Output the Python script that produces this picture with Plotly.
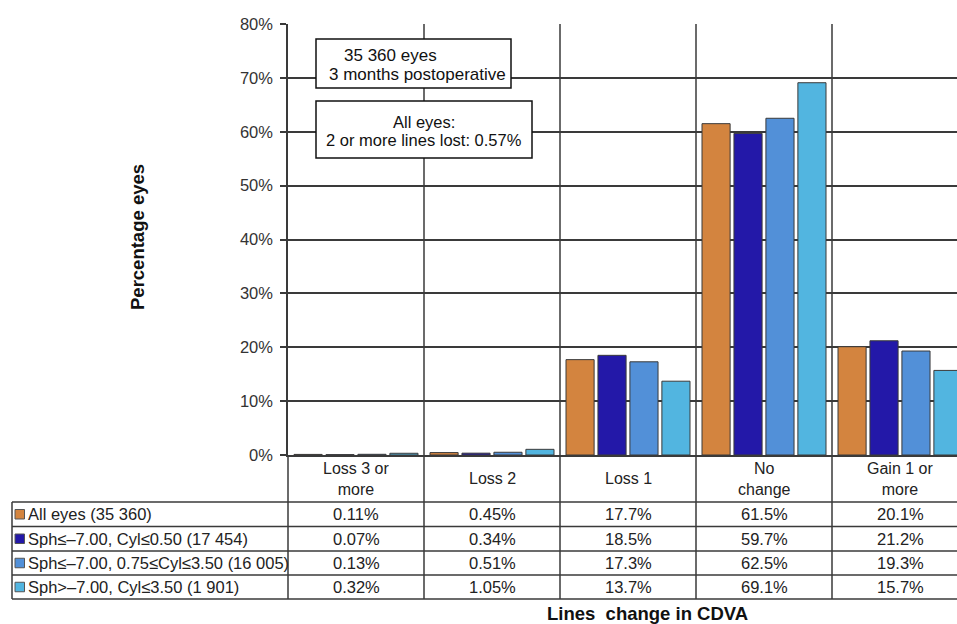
import plotly.graph_objects as go

categories = ["Loss 3 or<br>more", "Loss 2", "Loss 1", "No<br>change", "Gain 1 or<br>more"]
series_names = [
    "All eyes (35 360)",
    "Sph≤–7.00, Cyl≤0.50 (17 454)",
    "Sph≤–7.00, 0.75≤Cyl≤3.50 (16 005)",
    "Sph>–7.00, Cyl≤3.50 (1 901)",
]
all_eyes = [0.11, 0.45, 17.7, 61.5, 20.1]
sph_cyl_low = [0.07, 0.34, 18.5, 59.7, 21.2]
sph_cyl_mid = [0.13, 0.51, 17.3, 62.5, 19.3]
sph_high = [0.32, 1.05, 13.7, 69.1, 15.7]
value_labels = [
    ["0.11%", "0.45%", "17.7%", "61.5%", "20.1%"],
    ["0.07%", "0.34%", "18.5%", "59.7%", "21.2%"],
    ["0.13%", "0.51%", "17.3%", "62.5%", "19.3%"],
    ["0.32%", "1.05%", "13.7%", "69.1%", "15.7%"],
]
colors = ["#D3843F", "#2318A8", "#5290D8", "#52B5E0"]
y_ticks = [0, 10, 20, 30, 40, 50, 60, 70, 80]
y_tick_text = [f"{v}%" for v in y_ticks]

W, H = 957, 624
L, R, T, B = 288, 0, 24, 169
PW = W - L - R
PH = H - T - B
FONT = "Liberation Sans, Arial, sans-serif"
LINE = "#3a3a3a"
TXT = 16.5


def px_x(px):
    return (px - L) / PW


def px_y(py):
    return (H - B - py) / PH


series = [all_eyes, sph_cyl_low, sph_cyl_mid, sph_high]
x_idx = list(range(len(categories)))

fig = go.Figure()
for name, vals, col in zip(series_names, series, colors):
    fig.add_trace(go.Bar(
        x=x_idx, y=vals, name=name,
        marker=dict(color=col, line=dict(color="#3a3a3a", width=1)),
        showlegend=False,
    ))

cat_w = PW / 136.0  # plot width in category units

shapes = []
annotations = []

# vertical category separators running through plot and table
for i in range(len(categories) - 1):
    shapes.append(dict(type="line", xref="x", yref="paper",
                       x0=i + 0.5, x1=i + 0.5, y0=1, y1=px_y(599),
                       line=dict(color=LINE, width=1.5), layer="below"))
# y-axis extension into table
shapes.append(dict(type="line", xref="paper", yref="paper",
                   x0=0, x1=0, y0=0, y1=px_y(599),
                   line=dict(color=LINE, width=1.5)))
# left border of table label column
shapes.append(dict(type="line", xref="paper", yref="paper",
                   x0=px_x(12), x1=px_x(12), y0=px_y(502), y1=px_y(599),
                   line=dict(color=LINE, width=1.5)))
# horizontal table lines
row_lines = [502, 526.5, 551, 575, 599]
for yy in row_lines:
    shapes.append(dict(type="line", xref="paper", yref="paper",
                       x0=px_x(12), x1=1, y0=px_y(yy), y1=px_y(yy),
                       line=dict(color=LINE, width=1.5)))

# header labels (categories)
for i, c in enumerate(categories):
    annotations.append(dict(x=i, y=px_y(479), xref="x", yref="paper",
                            text=c, showarrow=False,
                            font=dict(family=FONT, size=16, color="#222"),
                            xanchor="center", yanchor="middle"))

# data rows
for r in range(len(series_names)):
    yc = (row_lines[r] + row_lines[r + 1]) / 2
    for i in range(len(categories)):
        annotations.append(dict(x=i, y=px_y(yc), xref="x", yref="paper",
                                text=value_labels[r][i], showarrow=False,
                                font=dict(family=FONT, size=TXT, color="#222"),
                                xanchor="center", yanchor="middle"))
    # legend key
    shapes.append(dict(type="rect", xref="paper", yref="paper",
                       x0=px_x(15), x1=px_x(24.5), y0=px_y(yc - 4.75), y1=px_y(yc + 4.75),
                       fillcolor=colors[r], line=dict(color="#555", width=1)))
    annotations.append(dict(x=px_x(25.5), y=px_y(yc), xref="paper", yref="paper",
                            text=series_names[r], showarrow=False,
                            font=dict(family=FONT, size=TXT, color="#222"),
                            xanchor="left", yanchor="middle"))

# text boxes
shapes.append(dict(type="rect", xref="paper", yref="paper",
                   x0=px_x(316), x1=px_x(511), y0=px_y(39), y1=px_y(88),
                   fillcolor="white", line=dict(color="#111", width=1.5), layer="above"))
shapes.append(dict(type="rect", xref="paper", yref="paper",
                   x0=px_x(316), x1=px_x(532), y0=px_y(101), y1=px_y(158),
                   fillcolor="white", line=dict(color="#111", width=1.5), layer="above"))
box_texts = [
    ("35 360 eyes", 390, 55, 17),
    ("3 months postoperative", 417, 74, 17),
    ("All eyes:", 424, 122, 16.5),
    ("2 or more lines lost: 0.57%", 424, 140, 16.5),
]
for txt, xx, yy, fs in box_texts:
    annotations.append(dict(x=px_x(xx), y=px_y(yy), xref="paper", yref="paper",
                            text=txt, showarrow=False,
                            font=dict(family=FONT, size=fs, color="#111"),
                            xanchor="center", yanchor="middle"))

# axis titles
annotations.append(dict(x=px_x(137), y=px_y(237), xref="paper", yref="paper",
                        text="<b>Percentage eyes</b>", showarrow=False, textangle=-90,
                        font=dict(family=FONT, size=18.5, color="#111"),
                        xanchor="center", yanchor="middle"))
annotations.append(dict(x=px_x(647), y=px_y(613), xref="paper", yref="paper",
                        text="<b>Lines  change in CDVA</b>", showarrow=False,
                        font=dict(family=FONT, size=18.5, color="#111"),
                        xanchor="center", yanchor="middle"))

fig.update_layout(
    width=W, height=H,
    margin=dict(l=L, r=R, t=T, b=B, pad=0),
    paper_bgcolor="white", plot_bgcolor="white",
    barmode="group", bargap=0.06, bargroupgap=0.12,
    shapes=shapes, annotations=annotations,
    font=dict(family=FONT),
)
fig.update_xaxes(
    range=[-0.5, -0.5 + cat_w], showticklabels=False, ticks="",
    showgrid=False, zeroline=False, showline=True, linecolor=LINE, linewidth=1.5,
    fixedrange=True,
)
fig.update_yaxes(
    range=[0, 80], tickvals=y_ticks, ticktext=y_tick_text,
    showgrid=True, gridcolor=LINE, gridwidth=1.5,
    zeroline=False, showline=True, linecolor=LINE, linewidth=1.5,
    ticks="outside", ticklen=6, tickcolor=LINE, tickwidth=1.5,
    ticklabelstandoff=4,
    tickfont=dict(family=FONT, size=TXT, color="#333"),
    fixedrange=True,
)

fig.write_html("out.html")
